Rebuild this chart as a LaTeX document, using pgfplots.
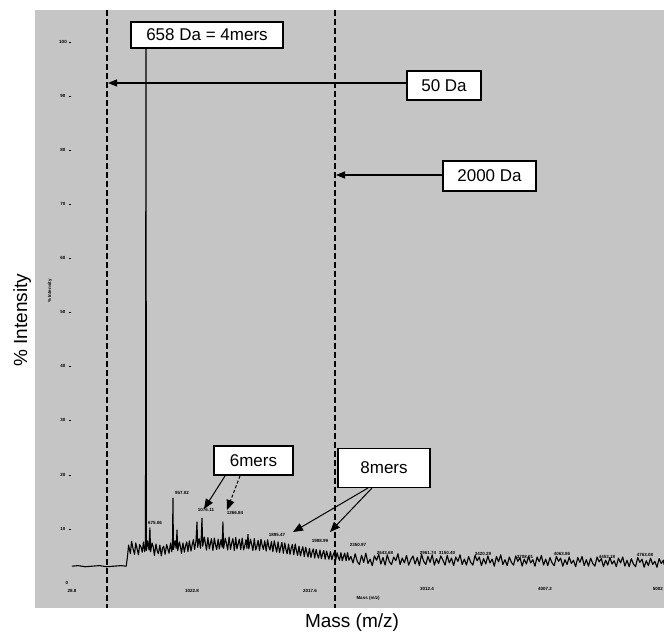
\documentclass[border=0pt]{standalone}
\usepackage{fontspec}
\setmainfont{Liberation Sans}
\usepackage{pgfplots}
\pgfplotsset{compat=1.18}
\usetikzlibrary{arrows.meta}
\definecolor{panel}{RGB}{197,197,197}
\newcommand{\tf}{\fontsize{4.5}{5}\selectfont\bfseries}
\begin{document}
\begin{tikzpicture}
\useasboundingbox (-35pt,-24pt) rectangle (629pt,608pt);
\clip (-35pt,-24pt) rectangle (629pt,608pt);
\begin{axis}[
 at={(0pt,0pt)}, anchor=south west,
 scale only axis, width=629pt, height=598pt,
 xmin=-282, xmax=5007, ymin=-4.444, ymax=106.296,
 axis line style={draw=none},
 axis background/.style={fill=panel},
 xtick=\empty, ytick=\empty,
 clip=true,
]
\addplot[black, line width=1.1pt, line join=round] coordinates {
(28.8,3.3) (80,3.4) (140,3.2) (200,3.3) (260,3.4) (320,3.2) (380,3.3) (440,3.4) (485,3.3)
(495,5.0) (505,7.2) (520,5.6) (530,7.9) (542,6.6) (555,5.5) (565,7.6) (578,6.4) (588,5.4) (598,7.3) (610,6.8) (620,5.9) (630,7.8) (640,6.0) (647,7.0) (651,100) (655,6.2) (665,8.0) (677,6.3) (684,10.4) (690,6.0) (702,7.6) (712,6.9) (722,5.3) (735,7.4) (745,6.2) (755,5.6) (768,7.2) (780,5.2) (790,6.6) (800,7.0) (812,5.5) (825,7.3) (835,6.5) (845,5.7) (858,7.6) (868,6.0) (874,7.0) (878,15.9) (882,6.4) (895,8.0) (905,6.6) (912,10.0) (918,6.2) (932,7.8) (940,7.0) (950,5.7) (962,7.6) (974,5.9) (984,7.1) (994,7.8) (1004,6.0) (1016,8.0) (1030,6.1) (1040,7.3) (1050,8.2) (1060,6.4) (1072,8.0) (1080,11.5) (1086,6.8) (1098,8.4) (1110,6.6) (1116,8.6) (1122,12.2) (1128,7.0) (1142,8.7) (1150,7.6) (1160,6.3) (1172,8.6) (1184,6.5) (1192,7.4) (1202,8.4) (1214,6.2) (1226,8.5) (1236,7.2) (1246,6.4) (1258,8.3) (1268,6.5) (1282,8.2) (1292,6.8) (1298,11.5) (1304,6.6) (1318,8.5) (1328,7.5) (1338,6.3) (1350,8.7) (1362,6.4) (1372,7.6) (1382,8.4) (1394,6.2) (1406,8.6) (1416,6.5) (1426,7.4) (1436,8.3) (1448,6.4) (1460,8.5) (1472,6.3) (1482,7.1) (1492,8.2) (1500,6.6) (1509,9.2) (1516,6.5) (1530,8.3) (1540,7.3) (1550,6.2) (1562,8.4) (1574,6.3) (1584,7.0) (1594,8.1) (1606,6.2) (1618,8.3) (1628,7.2) (1638,6.4) (1650,8.0) (1662,6.1) (1674,8.2) (1684,6.9) (1694,6.3) (1706,7.9) (1718,6.0) (1730,8.0) (1740,6.9) (1750,5.9) (1762,7.8) (1774,5.8) (1784,6.8) (1794,7.7) (1806,5.7) (1818,7.6) (1828,6.4) (1838,5.6) (1850,7.4) (1862,5.5) (1872,6.6) (1882,7.3) (1894,5.4) (1906,7.4) (1916,6.2) (1926,5.3) (1938,7.0) (1950,5.2) (1960,6.2) (1970,6.9) (1982,5.1) (1994,6.8) (2004,5.8) (2014,5.0) (2026,6.6) (2038,4.9) (2048,5.9) (2058,6.5) (2070,4.8) (2082,6.4) (2092,5.4) (2102,4.8) (2114,6.3) (2126,4.7) (2136,5.6) (2146,6.2) (2158,4.6) (2170,6.1) (2180,5.2) (2190,4.6) (2202,6.0) (2214,4.5) (2224,5.3) (2234,5.9) (2246,4.4) (2258,5.8) (2268,5.0) (2278,4.4) (2290,5.8) (2302,4.3) (2312,5.1) (2322,5.7) (2334,4.3) (2346,5.8) (2358,4.4)
(2374,5.1) (2392,3.9) (2410,5.6) (2428,4.2) (2446,3.6) (2464,5.3) (2482,4.0) (2500,5.7) (2518,3.8) (2536,4.6) (2554,3.4) (2572,5.2) (2590,4.4) (2608,5.5) (2626,3.7) (2644,4.9) (2662,3.5) (2680,5.4) (2698,4.1) (2716,3.6) (2734,5.0) (2752,4.3) (2770,5.6) (2788,3.6) (2806,4.8) (2824,3.9) (2842,5.3) (2860,3.5) (2878,4.5) (2896,5.2) (2914,3.7) (2932,4.9) (2950,3.4) (2968,5.5) (2986,4.2) (3004,3.6) (3022,5.1) (3040,4.0) (3058,5.4) (3076,3.5) (3094,4.7) (3112,3.8) (3130,5.2) (3148,4.4) (3166,3.5) (3184,5.3) (3202,3.9) (3220,4.8) (3238,3.4) (3256,5.0) (3274,4.2) (3292,5.4) (3310,3.6) (3328,4.6) (3346,3.5) (3364,5.1) (3382,4.0) (3400,3.5) (3418,5.3) (3436,4.3) (3454,5.0) (3472,3.4) (3490,4.7) (3508,3.7) (3526,5.2) (3544,3.9) (3562,4.6) (3580,3.3) (3598,5.1) (3616,4.1) (3634,5.4) (3652,3.6) (3670,4.5) (3688,3.4) (3706,5.0) (3724,4.0) (3742,3.5) (3760,5.2) (3778,4.2) (3796,4.9) (3814,3.3) (3832,4.6) (3850,3.7) (3868,5.1) (3886,3.9) (3904,4.5) (3922,3.3) (3940,5.0) (3958,4.1) (3976,5.3) (3994,3.5) (4012,4.6) (4030,3.4) (4048,4.9) (4066,3.9) (4084,3.4) (4102,5.1) (4120,4.2) (4138,4.8) (4156,3.3) (4174,4.5) (4192,3.6) (4210,5.0) (4228,3.8) (4246,4.4) (4264,3.2) (4282,4.9) (4300,4.0) (4318,5.1) (4336,3.4) (4354,4.5) (4372,3.3) (4390,4.8) (4408,3.8) (4426,3.3) (4444,5.0) (4462,4.1) (4480,4.7) (4498,3.2) (4516,4.4) (4534,3.5) (4552,4.9) (4570,3.7) (4588,4.3) (4606,3.2) (4624,4.8) (4642,3.9) (4660,5.0) (4678,3.3) (4696,4.4) (4714,3.2) (4732,4.7) (4750,3.7) (4768,3.2) (4786,4.9) (4804,4.0) (4822,4.6) (4840,3.1) (4858,4.3) (4876,3.4) (4894,4.8) (4912,3.6) (4930,4.2) (4948,3.1) (4966,4.7) (4984,3.8) (5002,4.4) (5007,3.6)
};
\end{axis}
\begin{scope}[x=1pt,y=-1pt,shift={(-35pt,608pt)}]
% dashed reference lines
\draw[line width=1.2pt, dash pattern=on 6pt off 3pt] (107,10) -- (107,608);
\draw[line width=1.2pt, dash pattern=on 6pt off 3pt] (335,10) -- (335,608);
% arrows
\draw[line width=1.2pt, -{Triangle[length=9pt,width=7pt]}] (407,83) -- (108,83);
\draw[line width=1.2pt, -{Triangle[length=9pt,width=7pt]}] (443,175) -- (336,175);
\draw[line width=1pt, -{Triangle[length=10pt,width=8pt]}] (225,476) -- (204,509);
\draw[line width=1pt, dash pattern=on 3pt off 2pt, -{Triangle[length=10pt,width=8pt]}] (240,476) -- (227,510);
\draw[line width=1pt, -{Triangle[length=10pt,width=8pt]}] (368,488) -- (293,532);
\draw[line width=1pt, -{Triangle[length=10pt,width=8pt]}] (372,488) -- (330,532);
% boxes
\tikzset{bx/.style={draw, fill=white, line width=1.3pt, inner sep=0pt, font=\fontsize{17}{20}\selectfont}}
\node[bx, minimum width=152pt, minimum height=26pt] at (207,35) {658 Da = 4mers};
\node[bx, minimum width=74pt, minimum height=29pt] at (444,85.5) {50 Da};
\node[bx, minimum width=93pt, minimum height=30pt] at (489.5,176) {2000 Da};
\node[bx, minimum width=79pt, minimum height=29pt] at (253.5,460.5) {6mers};
\node[bx, minimum width=92pt, minimum height=39pt] at (384,468) {8mers};
% axis titles
\node[anchor=base, rotate=90, font=\fontsize{19}{22}\selectfont] at (27,320) {\% Intensity};
\node[anchor=base, font=\fontsize{19}{22}\selectfont] at (352,627) {Mass (m/z)};
% tiny software tick labels
\foreach \v/\py in {100/42,90/96,80/150,70/204,60/258,50/312,40/366,30/420,20/475,10/529}{
  \node[font=\tf, inner sep=0pt] at (63,\py) {\v};
  \draw[line width=0.6pt] (68.5,\py) -- (71,\py);
}
\node[font=\tf, inner sep=0pt] at (67,583) {0};
\node[font=\tf, inner sep=0pt] at (72,591) {28.8};
\node[font=\tf, inner sep=0pt] at (192,591) {1022.8};
\node[font=\tf, inner sep=0pt] at (310,591) {2017.6};
\node[font=\tf, inner sep=0pt] at (427,589) {3012.4};
\node[font=\tf, inner sep=0pt] at (545,589) {4007.2};
\node[font=\tf, inner sep=0pt, anchor=east] at (663,589) {5002};
\node[font=\tf, inner sep=0pt] at (368,598) {Mass (m/z)};
\node[font=\tf, inner sep=0pt, rotate=90] at (50,291) {\% Intensity};
% peak labels
\foreach \t/\px/\py in {675.06/155/523, 957.02/182/493, 1076.11/206/510, 1266.84/235/513, 1895.47/277/535, 1988.99/320/541, 2350.97/358/545, 2643.68/385/553, 2961.74/428/553, 3150.40/447/553, 3420.29/483/554, 3708.01/525/557, 4063.86/562/554, 4453.18/607/557, 4763.08/645/555}{
  \node[font=\tf, inner sep=0pt] at (\px,\py) {\t};
}
\end{scope}
\end{tikzpicture}
\end{document}
